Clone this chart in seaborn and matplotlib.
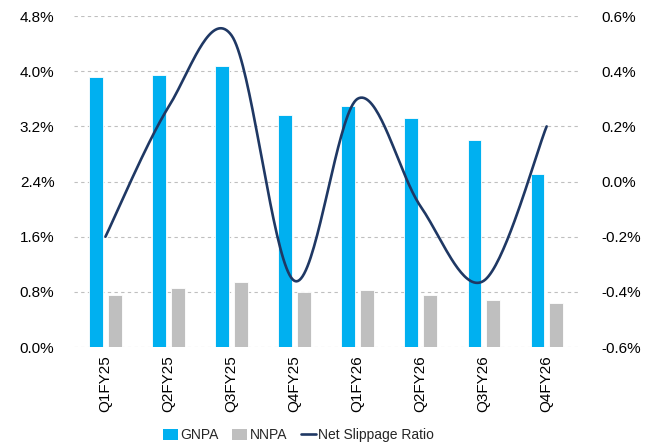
import numpy as np
import pandas as pd
import matplotlib
matplotlib.use("Agg")
import matplotlib.pyplot as plt
import seaborn as sns
from matplotlib.ticker import FuncFormatter
from matplotlib.patches import Patch
from matplotlib.lines import Line2D

quarters = ["Q1FY25", "Q2FY25", "Q3FY25", "Q4FY25", "Q1FY26", "Q2FY26", "Q3FY26", "Q4FY26"]
gnpa = [3.91, 3.94, 4.07, 3.36, 3.49, 3.32, 3.00, 2.51]
nnpa = [0.76, 0.85, 0.94, 0.80, 0.83, 0.76, 0.69, 0.64]
net_slippage = [-0.20, 0.27, 0.53, -0.36, 0.30, -0.09, -0.36, 0.20]

left_ticks = [0.0, 0.8, 1.6, 2.4, 3.2, 4.0, 4.8]
right_ticks = [-0.6, -0.4, -0.2, 0.0, 0.2, 0.4, 0.6]

C_GNPA = "#00B0F0"
C_NNPA = "#BFBFBF"
C_LINE = "#1F3864"

sns.set_theme(style="white")
plt.rcParams["font.family"] = ["Liberation Sans", "DejaVu Sans"]
plt.rcParams["axes.unicode_minus"] = False

fig = plt.figure(figsize=(6.6, 4.45), dpi=100)
ax = fig.add_axes([0.112, 0.220, 0.764, 0.744])

bars = pd.DataFrame({
    "Quarter": quarters * 2,
    "Value": gnpa + nnpa,
    "Metric": ["GNPA"] * len(quarters) + ["NNPA"] * len(quarters),
})
sns.barplot(data=bars, x="Quarter", y="Value", hue="Metric",
            palette={"GNPA": C_GNPA, "NNPA": C_NNPA}, saturation=1,
            width=0.58, gap=0.24, edgecolor="white", linewidth=0.6,
            ax=ax, legend=False, zorder=2)

ax.set_ylim(0, 4.8)
ax.set_yticks(left_ticks)
ax.yaxis.set_major_formatter(FuncFormatter(lambda v, p: f"{v:.1f}%"))
ax.set_xlim(-0.5, len(quarters) - 0.5)
ax.set_xlabel("")
ax.set_ylabel("")
ax.grid(axis="y", color="#BFBFBF", linestyle=(0, (3, 3)), linewidth=0.8, zorder=0)
ax.set_axisbelow(True)
ax.tick_params(axis="x", labelrotation=90, labelsize=11, length=0, pad=6, colors="#000000")
ax.tick_params(axis="y", labelsize=11, length=0, pad=14, colors="#000000")
for s in ax.spines.values():
    s.set_visible(False)


def smooth(xs, ys, steps=40):
    """Cardinal (Catmull-Rom style) Bezier spline through the points."""
    xs = np.asarray(xs, float)
    ys = np.asarray(ys, float)
    px = np.concatenate([[xs[0]], xs, [xs[-1]]])
    py = np.concatenate([[ys[0]], ys, [ys[-1]]])
    out_x, out_y = [], []
    for i in range(1, len(px) - 2):
        p0, p1, p2, p3 = (np.array([px[j], py[j]]) for j in (i - 1, i, i + 1, i + 2))
        c1 = p1 + (p2 - p0) / 6.0
        c2 = p2 - (p3 - p1) / 6.0
        t = np.linspace(0, 1, steps)[:, None]
        pts = ((1 - t) ** 3) * p1 + 3 * ((1 - t) ** 2) * t * c1 + 3 * (1 - t) * t ** 2 * c2 + t ** 3 * p2
        out_x.extend(pts[:, 0])
        out_y.extend(pts[:, 1])
    return np.array(out_x), np.array(out_y)


ax2 = ax.twinx()
sx, sy = smooth(np.arange(len(quarters)), net_slippage)
line_df = pd.DataFrame({"x": sx, "y": sy})
sns.lineplot(data=line_df, x="x", y="y", sort=False, color=C_LINE, linewidth=1.9, ax=ax2)
ax2.set_ylim(-0.6, 0.6)
ax2.set_yticks(right_ticks)
ax2.yaxis.set_major_formatter(FuncFormatter(lambda v, p: f"{v:.1f}%"))
ax2.set_ylabel("")
ax2.grid(False)
ax2.tick_params(axis="y", labelsize=11, length=0, pad=17, colors="#000000")
for s in ax2.spines.values():
    s.set_visible(False)
ax.set_xlim(-0.5, len(quarters) - 0.5)

handles = [
    Patch(facecolor=C_GNPA, edgecolor="none", label="GNPA"),
    Patch(facecolor=C_NNPA, edgecolor="none", label="NNPA"),
    Line2D([0], [0], color=C_LINE, linewidth=1.9, label="Net Slippage Ratio"),
]
fig.legend(handles=handles, loc="center", bbox_to_anchor=(0.452, 0.022), ncol=3,
           frameon=False, fontsize=10, handlelength=1.1, handleheight=0.8,
           handletextpad=0.15, columnspacing=1.0, borderaxespad=0)

fig.savefig("out.png", dpi=100)
